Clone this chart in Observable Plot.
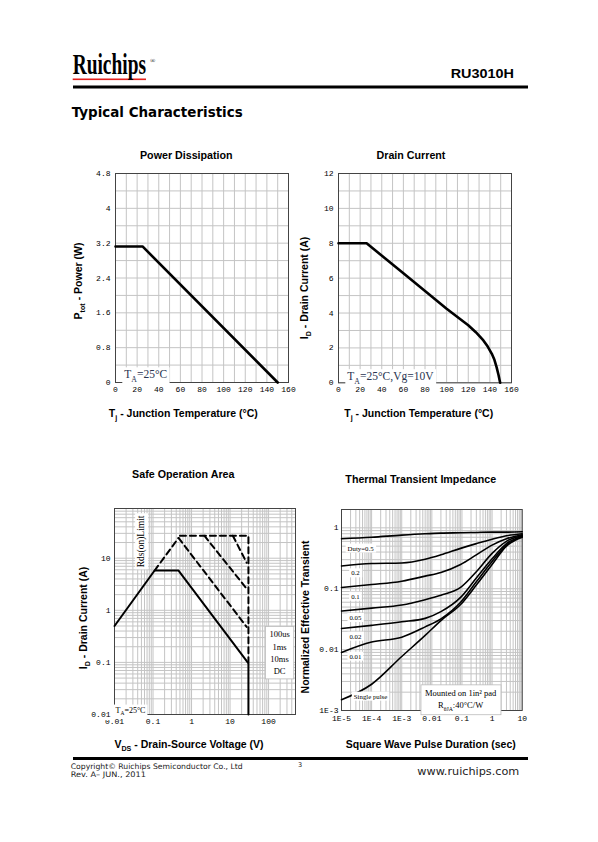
<!DOCTYPE html>
<html><head><meta charset="utf-8">
<script src="https://cdn.jsdelivr.net/npm/d3@7"></script>
<script src="https://cdn.jsdelivr.net/npm/@observablehq/plot@0.6"></script>
<style>
html,body{margin:0;padding:0;background:#fff;}
#page{position:relative;width:598px;height:842px;overflow:hidden;background:#fff;}
</style></head><body><div id="page"></div>
<script>
// ---------------- DATA ----------------
// Power dissipation vs junction temperature
const powerTemp = [0, 25, 150];
const powerW = [3.125, 3.125, 0];
const powerTicksX = [0, 20, 40, 60, 80, 100, 120, 140, 160];
const powerTicksY = [0, 0.8, 1.6, 2.4, 3.2, 4, 4.8];

// Drain current vs junction temperature
const drainTemp = [0, 26, 60, 82, 100, 120, 127, 134, 138, 141.8, 144.2, 146.2, 148, 149.5];
const drainA    = [8, 8, 6.28, 5.16, 4.25, 3.3, 2.9, 2.43, 2.08, 1.66, 1.32, 0.9, 0.45, 0];
const drainTicksX = [0, 20, 40, 60, 80, 100, 120, 140, 160];
const drainTicksY = [0, 2, 4, 6, 8, 10, 12];

// Safe operation area (log-log)
const soaDcV = [0.01, 0.11, 0.46, 30, 30];
const soaDcI = [0.5, 5.8, 5.8, 0.096, 0.01];
const soaRdsV = [0.11, 0.46];
const soaRdsI = [5.8, 24.5];
const soa10msV = [0.46, 27];
const soa10msI = [24.5, 0.48];
const soa1msV = [2.15, 27];
const soa1msI = [27, 2.6];
const soa100usV = [11.8, 27];
const soa100usI = [27, 8.2];
const soaTopV = [0.5, 30, 30];
const soaTopI = [27, 27, 0.1];
const soaTicksX = [0.01, 0.1, 1, 10, 100, 500];
const soaTickLabelsX = ["0.01", "0.1", "1", "10", "100", "500"];
const soaTicksY = [0.01, 0.1, 1, 10, 90];
const soaTickLabelsY = ["0.01", "0.1", "1", "10", "90"];

// Thermal transient impedance (log-log)
const thermT = [1e-5, 1e-4, 1e-3, 6e-3, 0.02, 0.09, 0.3, 1, 3, 10];
const zDuty05  = [0.66, 0.70, 0.76, 0.80, 0.82, 0.83, 0.84, 0.85, 0.85, 0.86];
const zDuty02  = [0.236, 0.26, 0.265, 0.305, 0.36, 0.46, 0.55, 0.65, 0.74, 0.80];
const zDuty01  = [0.105, 0.117, 0.133, 0.161, 0.185, 0.25, 0.36, 0.52, 0.66, 0.77];
const zDuty005 = [0.043, 0.048, 0.054, 0.066, 0.078, 0.105, 0.19, 0.38, 0.60, 0.75];
const zDuty002 = [0.0222, 0.025, 0.0286, 0.0326, 0.042, 0.072, 0.15, 0.31, 0.55, 0.73];
const zDuty001 = [0.009, 0.0133, 0.016, 0.0236, 0.032, 0.060, 0.13, 0.28, 0.52, 0.72];
const zSingle  = [0.0015, 0.0027, 0.0077, 0.0171, 0.03, 0.055, 0.115, 0.25, 0.50, 0.70];
const thermLabels = ["Duty=0.5", "0.2", "0.1", "0.05", "0.02", "0.01", "Single pulse"];
const thermTicksX = [1e-5, 1e-4, 1e-3, 0.01, 0.1, 1, 10];
const thermTickLabelsX = ["1E-5", "1E-4", "1E-3", "0.01", "0.1", "1", "10"];
const thermTicksY = [0.001, 0.01, 0.1, 1, 2];
const thermTickLabelsY = ["1E-3", "0.01", "0.1", "1", "2"];

// Annotation texts
const noteTa = "T_{A}=25°C";
const noteTaVg = "T_{A}=25°C,Vg=10V";
const noteRds = "Rds(on)Limit";
const noteSoaLegend = "100us\n1ms\n10ms\nDC";
const noteMounted = "Mounted on 1in² pad\nR_{θJA}:40°C/W";

// ---------------- HELPERS ----------------
const NS = "http://www.w3.org/2000/svg";
const gridColor = "#c4c4c4";
const frameColor = "#444";
const baseStyle = {background: "transparent", fontFamily: "Liberation Mono, monospace", fontSize: "8px", color: "#000", overflow: "visible"};
const pts = (xs, ys) => xs.map((x, i) => ({x, y: ys[i]}));
function logGrid(lo, hi) {
  const v = [];
  for (let e = Math.floor(Math.log10(lo)); e <= Math.ceil(Math.log10(hi)); e++)
    for (let m = 1; m <= 9; m++) { const x = +(m * Math.pow(10, e)).toPrecision(6); if (x >= lo * 0.999 && x <= hi * 1.001) v.push(x); }
  return v;
}
const fmt = (ticks, labels) => { const m = new Map(ticks.map((t, i) => [t, labels[i]])); return d => m.get(d); };
const plain = d => String(d);

function richText(root) {
  root.querySelectorAll("text, tspan").forEach(el => {
    if (el.children.length) return;
    const s = el.textContent;
    if (!/[_^]\{/.test(s)) return;
    const fs = parseFloat(getComputedStyle(el).fontSize);
    el.textContent = "";
    let shift = 0, last = 0, m;
    const re = /([_^])\{([^}]*)\}/g;
    const add = (txt, small, target) => {
      const t = document.createElementNS(NS, "tspan");
      const dy = target - shift;
      if (dy) t.setAttribute("dy", dy);
      shift = target;
      if (small) t.setAttribute("font-size", fs * 0.68);
      t.textContent = txt;
      el.appendChild(t);
    };
    while ((m = re.exec(s))) {
      if (m.index > last) add(s.slice(last, m.index), false, 0);
      add(m[2], true, m[1] === "_" ? fs * 0.3 : -fs * 0.4);
      last = re.lastIndex;
    }
    if (last < s.length) add(s.slice(last), false, 0);
    else if (shift) add("\u200b", false, 0);
  });
}
// tag annotation texts (by content) before rich-text processing
function tagBoxes(root, whiteList, grayList) {
  const norm = s => s.replace(/\n/g, "");
  const w = whiteList.map(norm), g = grayList.map(norm);
  root.querySelectorAll("text").forEach(t => {
    const c = t.textContent;
    if (w.includes(c)) t.setAttribute("data-box", "white");
    else if (g.includes(c)) t.setAttribute("data-box", "gray");
  });
}
function drawBoxes(root) {
  root.querySelectorAll("text[data-box]").forEach(t => {
    const gray = t.getAttribute("data-box") === "gray";
    const padX = gray ? 4 : 2, padY = gray ? 3 : 1;
    const b = t.getBBox();
    const r = document.createElementNS(NS, "rect");
    r.setAttribute("x", b.x - padX); r.setAttribute("y", b.y - padY);
    r.setAttribute("width", b.width + 2 * padX); r.setAttribute("height", b.height + 2 * padY);
    r.setAttribute("fill", "#fff");
    r.setAttribute("stroke", gray ? "#bbb" : "none"); r.setAttribute("stroke-width", 0.8);
    if (t.getAttribute("transform")) r.setAttribute("transform", t.getAttribute("transform"));
    t.parentNode.insertBefore(r, t);
  });
}

// ---------------- CHARTS ----------------
const p1 = Plot.plot({
  width: 225, height: 245, marginLeft: 40, marginTop: 13, marginRight: 12, marginBottom: 23,
  x: {domain: [0, 160]}, y: {domain: [0, 4.8]}, style: baseStyle,
  marks: [
    Plot.gridX(d3.range(0, 161, 10), {stroke: gridColor, strokeOpacity: 1}),
    Plot.gridY(d3.range(0, 4.81, 0.4), {stroke: gridColor, strokeOpacity: 1}),
    Plot.frame({stroke: frameColor}),
    Plot.axisX(powerTicksX, {tickSize: 0, tickPadding: 4, label: null, tickFormat: plain}),
    Plot.axisY(powerTicksY, {tickSize: 0, tickPadding: 5, label: null, tickFormat: plain}),
    Plot.line(pts(powerTemp, powerW), {x: "x", y: "y", stroke: "#000", strokeWidth: 2.6}),
    Plot.text([noteTa], {x: () => 28, y: () => 0.18, text: d => d, fontFamily: "Liberation Serif", fontSize: 11.5, fill: "#2a3552"})
  ]
});

const p2 = Plot.plot({
  width: 225, height: 245, marginLeft: 38, marginTop: 13, marginRight: 14, marginBottom: 22.7,
  x: {domain: [0, 160]}, y: {domain: [0, 12]}, style: baseStyle,
  marks: [
    Plot.gridX(d3.range(0, 161, 10), {stroke: gridColor, strokeOpacity: 1}),
    Plot.gridY(d3.range(0, 12.1, 1), {stroke: gridColor, strokeOpacity: 1}),
    Plot.frame({stroke: frameColor}),
    Plot.axisX(drainTicksX, {tickSize: 0, tickPadding: 4, label: null, tickFormat: plain}),
    Plot.axisY(drainTicksY, {tickSize: 0, tickPadding: 5, label: null, tickFormat: plain}),
    Plot.line(pts(drainTemp, drainA), {x: "x", y: "y", stroke: "#000", strokeWidth: 2.6}),
    Plot.text([noteTaVg], {x: () => 48, y: () => 0.36, text: d => d, fontFamily: "Liberation Serif", fontSize: 11.5, fill: "#2a3552"})
  ]
});

const soaDashed = [
  ...pts(soaRdsV, soaRdsI).map(d => ({...d, s: "rds"})),
  ...pts(soa10msV, soa10msI).map(d => ({...d, s: "10ms"})),
  ...pts(soa1msV, soa1msI).map(d => ({...d, s: "1ms"})),
  ...pts(soa100usV, soa100usI).map(d => ({...d, s: "100us"})),
  ...pts(soaTopV, soaTopI).map(d => ({...d, s: "top"}))
];
const p3 = Plot.plot({
  width: 230, height: 240, marginLeft: 39, marginTop: 13, marginRight: 10, marginBottom: 21,
  x: {type: "log", domain: [0.01, 500]}, y: {type: "log", domain: [0.01, 90]}, style: baseStyle,
  marks: [
    Plot.gridX(logGrid(0.01, 500), {stroke: gridColor, strokeOpacity: 1}),
    Plot.gridY(logGrid(0.01, 90), {stroke: gridColor, strokeOpacity: 1}),
    Plot.frame({stroke: frameColor}),
    Plot.axisX(soaTicksX, {tickSize: 0, tickPadding: 4, label: null, tickFormat: fmt(soaTicksX, soaTickLabelsX)}),
    Plot.axisY(soaTicksY, {tickSize: 0, tickPadding: 4, label: null, tickFormat: fmt(soaTicksY, soaTickLabelsY)}),
    Plot.line(soaDashed, {x: "x", y: "y", z: "s", stroke: "#000", strokeWidth: 2, strokeDasharray: "6,4"}),
    Plot.line(pts(soaDcV, soaDcI), {x: "x", y: "y", stroke: "#000", strokeWidth: 2}),
    Plot.text([noteRds], {x: () => 0.049, y: () => 21, text: d => d, rotate: -90, fontFamily: "Liberation Serif", fontSize: 9.5, fill: "#000"}),
    Plot.text([noteSoaLegend], {x: () => 193, y: () => 0.16, text: d => d, lineHeight: 1.43, fontFamily: "Liberation Serif", fontSize: 8.5, fill: "#000"}),
    Plot.text([noteTa], {x: () => 0.026, y: () => 0.0122, text: d => d, fontFamily: "Liberation Serif", fontSize: 8, fill: "#000"})
  ]
});

const thermSeries = [zDuty05, zDuty02, zDuty01, zDuty005, zDuty002, zDuty001, zSingle];
const thermData = thermSeries.flatMap((zs, k) => pts(thermT, zs).map(d => ({...d, s: thermLabels[k]})));
const thermLabelT = [4.3e-5, 2.9e-5, 2.9e-5, 2.9e-5, 2.9e-5, 2.9e-5, 9.2e-5];
const thermLabelZ = [0.46, 0.18, 0.0745, 0.0333, 0.0164, 0.0077, 0.0017];
const p4 = Plot.plot({
  width: 230, height: 240, marginLeft: 41, marginTop: 14, marginRight: 8.3, marginBottom: 25,
  x: {type: "log", domain: [1e-5, 10]}, y: {type: "log", domain: [0.001, 2]}, style: baseStyle,
  marks: [
    Plot.gridX(logGrid(1e-5, 10), {stroke: gridColor, strokeOpacity: 1}),
    Plot.gridY(logGrid(0.001, 2), {stroke: gridColor, strokeOpacity: 1}),
    Plot.frame({stroke: frameColor}),
    Plot.axisX(thermTicksX, {tickSize: 0, tickPadding: 5, label: null, tickFormat: fmt(thermTicksX, thermTickLabelsX)}),
    Plot.axisY(thermTicksY, {tickSize: 0, tickPadding: 3, label: null, tickFormat: fmt(thermTicksY, thermTickLabelsY)}),
    Plot.line(thermData, {x: "x", y: "y", z: "s", stroke: "#000", strokeWidth: 1.6, curve: "monotone-x"}),
    Plot.text(thermLabels, {x: (d, i) => thermLabelT[i], y: (d, i) => thermLabelZ[i], text: d => d, fontFamily: "Liberation Serif", fontSize: 6.8, fill: "#000"}),
    Plot.text([noteMounted], {x: () => 0.09, y: () => 0.0016, text: d => d, lineHeight: 1.45, fontFamily: "Liberation Serif", fontSize: 8.5, fill: "#000"})
  ]
});

// ---------------- PAGE ----------------
const page = document.getElementById("page");
const T = "font-family=\"Liberation Sans, Arial, sans-serif\" font-weight=\"bold\"";
page.innerHTML = `
<svg width="598" height="842" style="position:absolute;left:0;top:0">
  <rect x="72.7" y="78.5" width="73.3" height="1.6" fill="#e3211d"/>
  <text id="logo" x="0" y="0" font-family="Liberation Serif, serif" font-weight="bold" font-size="30">Ruichips</text>
  <text x="150" y="63" font-family="Liberation Serif, serif" font-size="7">®</text>
  <text x="514" y="78.3" text-anchor="end" ${T} font-size="12.5" textLength="63.3" lengthAdjust="spacingAndGlyphs">RU3010H</text>
  <rect x="73" y="85.5" width="455" height="3" fill="#000"/>
  <text x="71.7" y="117.3" font-family="DejaVu Sans, sans-serif" font-weight="bold" font-size="13.5" textLength="171" lengthAdjust="spacingAndGlyphs">Typical Characteristics</text>

  <text x="186.3" y="159.3" text-anchor="middle" ${T} font-size="10.7">Power Dissipation</text>
  <text x="411" y="159.3" text-anchor="middle" ${T} font-size="10.7">Drain Current</text>
  <text x="183.3" y="478.3" text-anchor="middle" ${T} font-size="10.7">Safe Operation Area</text>
  <text x="420.8" y="483.3" text-anchor="middle" ${T} font-size="10.7">Thermal Transient Impedance</text>

  <text x="183.3" y="417" text-anchor="middle" ${T} font-size="10.5">T_{j} - Junction Temperature (°C)</text>
  <text x="418.7" y="417" text-anchor="middle" ${T} font-size="10.5">T_{j} - Junction Temperature (°C)</text>
  <text x="189" y="748" text-anchor="middle" ${T} font-size="10.5">V_{DS} - Drain-Source Voltage (V)</text>
  <text x="430.8" y="748" text-anchor="middle" ${T} font-size="10.5">Square Wave Pulse Duration (sec)</text>

  <text transform="translate(82,281) rotate(-90)" text-anchor="middle" ${T} font-size="10.5">P_{tot} - Power (W)</text>
  <text transform="translate(308,288) rotate(-90)" text-anchor="middle" ${T} font-size="10.5">I_{D} - Drain Current (A)</text>
  <text transform="translate(87,618) rotate(-90)" text-anchor="middle" ${T} font-size="10.5">I_{D} - Drain Current (A)</text>
  <text transform="translate(309,617) rotate(-90)" text-anchor="middle" ${T} font-size="10.5">Normalized Effective Transient</text>

  <rect x="73" y="757" width="455" height="3" fill="#000"/>
  <text x="70.7" y="769" font-family="DejaVu Sans, sans-serif" font-size="7.6" fill="#222" textLength="172" lengthAdjust="spacingAndGlyphs">Copyright© Ruichips Semiconductor Co., Ltd</text>
  <text x="70.7" y="777.3" font-family="DejaVu Sans, sans-serif" font-size="7.6" fill="#222" textLength="75.3" lengthAdjust="spacingAndGlyphs">Rev. A– JUN., 2011</text>
  <text x="300" y="767" text-anchor="middle" font-family="DejaVu Sans, sans-serif" font-size="6.5" fill="#222">3</text>
  <text x="417.3" y="775" font-family="DejaVu Sans, sans-serif" font-size="9.6" fill="#222" textLength="102" lengthAdjust="spacingAndGlyphs">www.ruichips.com</text>
</svg>`;

// condense the logo by measuring it and scaling horizontally
const logo = document.getElementById("logo");
const logoW = logo.getComputedTextLength() || 113;
logo.setAttribute("transform", `translate(72.7,74) scale(${(73.3 / logoW).toFixed(4)},1)`);

[[p1, 75, 160], [p2, 300, 160], [p3, 75, 495], [p4, 300, 495]].forEach(([svg, left, top]) => {
  svg.style.position = "absolute";
  svg.style.left = left + "px";
  svg.style.top = top + "px";
  page.appendChild(svg);
});

[p1, p2, p3, p4].forEach(svg => tagBoxes(svg, [noteTa, noteTaVg, noteRds, ...thermLabels], [noteSoaLegend, noteMounted]));
richText(page);
[p1, p2, p3, p4].forEach(drawBoxes);
</script>
</body></html>
